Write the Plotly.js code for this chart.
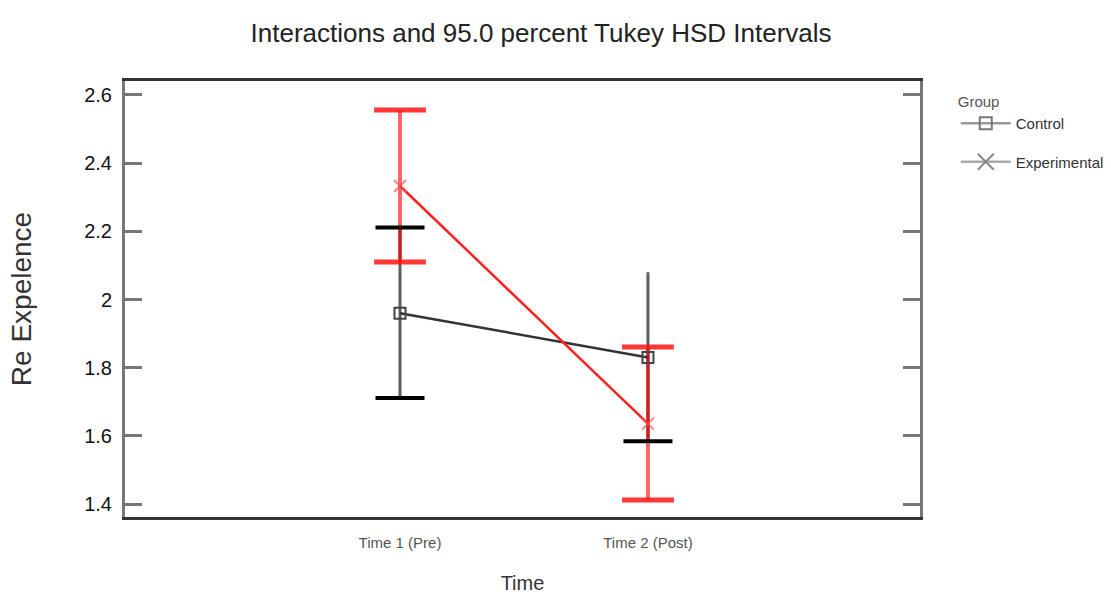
<!DOCTYPE html>
<html>
<head>
<meta charset="utf-8">
<script src="https://cdn.plot.ly/plotly-3.0.1.min.js"></script>
<style>html,body{margin:0;padding:0;background:#fff;}#chart{width:1111px;height:597px;}</style>
</head>
<body>
<div id="chart"></div>
<script>
// ---- data ----
const timeLabels = ['Time 1 (Pre)', 'Time 2 (Post)'];
const timePos = [0, 1];
const groupNames = ['Control', 'Experimental'];

const controlMean = [1.96, 1.83];
const controlLow  = [1.711, 1.584];
const controlHigh = [2.211, 2.080];
const controlHighCap = [true, false];   // upper cap visible only at Time 1

const expMean = [2.333, 1.636];
const expLow  = [2.110, 1.412];
const expHigh = [2.556, 1.861];

// ---- helpers ----
function whisker(pos, low, high) {
  const x = [], y = [];
  pos.forEach((p, i) => { x.push(p, p, null); y.push(low[i], high[i], null); });
  return {x, y};
}
function caps(pos, low, high, highShown) {
  const x = [], y = [];
  pos.forEach((p, i) => {
    x.push(p); y.push(low[i]);
    if (!highShown || highShown[i]) { x.push(p); y.push(high[i]); }
  });
  return {x, y};
}

const sans = 'Liberation Sans, Arial, sans-serif';
const wc = whisker(timePos, controlLow, controlHigh);
const we = whisker(timePos, expLow, expHigh);
const cc = caps(timePos, controlLow, controlHigh, controlHighCap);
const ce = caps(timePos, expLow, expHigh, null);

const traces = [
  {x: wc.x, y: wc.y, mode: 'lines', line: {color: 'rgba(40,40,40,0.75)', width: 3}, showlegend: false, hoverinfo: 'skip'},
  {x: we.x, y: we.y, mode: 'lines', line: {color: 'rgba(255,0,0,0.6)', width: 4}, showlegend: false, hoverinfo: 'skip'},
  {x: cc.x, y: cc.y, mode: 'markers', marker: {symbol: 'line-ew', size: 35, line: {color: '#000', width: 4}}, showlegend: false, hoverinfo: 'skip'},
  {x: ce.x, y: ce.y, mode: 'markers', marker: {symbol: 'line-ew', size: 37, line: {color: 'rgba(255,20,20,0.85)', width: 5}}, showlegend: false, hoverinfo: 'skip'},
  {x: timePos, y: controlMean, mode: 'lines+markers', name: groupNames[0], showlegend: false,
   line: {color: '#333', width: 2.5},
   marker: {symbol: 'square-open', size: 11, color: '#444', line: {width: 2, color: '#444'}}},
  {x: timePos, y: expMean, mode: 'lines+markers', name: groupNames[1], showlegend: false,
   line: {color: '#ff2020', width: 2.5},
   marker: {symbol: 'x-thin-open', size: 12, color: 'rgba(255,80,80,0.7)', line: {width: 2, color: 'rgba(255,80,80,0.7)'}}},
  // legend entries (gray, as in the reference)
  {x: [null], y: [null], mode: 'lines+markers', name: groupNames[0], legendgroup: 'a',
   line: {color: '#999', width: 2.5}, marker: {symbol: 'square-open', size: 12, color: '#777', line: {width: 2, color: '#777'}}},
  {x: [null], y: [null], mode: 'lines+markers', name: groupNames[1], legendgroup: 'b',
   line: {color: '#aaa', width: 2.5}, marker: {symbol: 'x-thin-open', size: 16, color: '#888', line: {width: 2, color: '#888'}}}
];

const layout = {
  width: 1111, height: 597,
  paper_bgcolor: '#fff', plot_bgcolor: '#fff',
  margin: {l: 125, r: 191, t: 81, b: 80, autoexpand: false},
  showlegend: true,
  title: {text: 'Interactions and 95.0 percent Tukey HSD Intervals', x: 0.487, xanchor: 'center', y: 0.945, yanchor: 'middle',
          font: {family: sans, size: 26, color: '#222'}},
  xaxis: {
    range: [-1.109, 2.097], tickvals: timePos, ticktext: timeLabels,
    showgrid: false, zeroline: false, ticks: '',
    showline: true, linecolor: '#333', linewidth: 3, mirror: true,
    tickfont: {family: sans, size: 15, color: '#555'}, ticklabelstandoff: 10,
    title: {text: 'Time', font: {family: sans, size: 20, color: '#333'}, standoff: 26},
    automargin: false, fixedrange: true
  },
  yaxis: {
    range: [1.362, 2.641], tickvals: [1.4, 1.6, 1.8, 2.0, 2.2, 2.4, 2.6], ticktext: ['1.4', '1.6', '1.8', '2', '2.2', '2.4', '2.6'],
    showgrid: false, zeroline: false,
    ticks: 'inside', ticklen: 17, tickwidth: 3, tickcolor: '#777',
    showline: true, linecolor: '#777', linewidth: 3, mirror: 'ticks',
    tickfont: {family: sans, size: 20, color: '#111'}, ticklabelstandoff: 6,
    title: {text: 'Re Expelence', font: {family: sans, size: 28, color: '#333'}, standoff: 45},
    automargin: false, fixedrange: true
  },
  legend: {
    x: 1.045, xanchor: 'left', y: 0.985, yanchor: 'top',
    title: {text: 'Group', font: {family: sans, size: 15, color: '#555'}},
    font: {family: sans, size: 15, color: '#333'},
    tracegroupgap: 16, bgcolor: 'rgba(0,0,0,0)', itemwidth: 50
  }
};

Plotly.newPlot('chart', traces, layout, {displayModeBar: false, staticPlot: true});
</script>
</body>
</html>
